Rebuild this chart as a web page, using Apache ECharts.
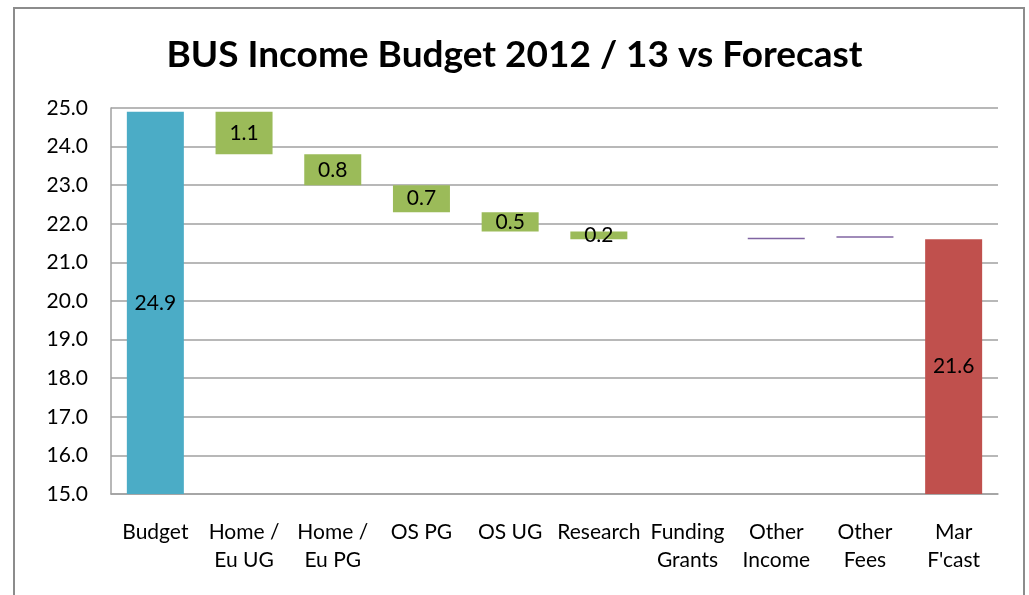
<!DOCTYPE html>
<html>
<head>
<meta charset="utf-8">
<script src="https://cdn.jsdelivr.net/npm/echarts@6/dist/echarts.min.js"></script>
<style>
  html, body { margin: 0; padding: 0; background: #ffffff; }
  #chart { width: 1029px; height: 595px; }
</style>
</head>
<body>
<div id="chart"></div>
<script>
// Income waterfall: opening budget, movements by income line, closing forecast
const categories = ['Budget', 'Home /\nEu UG', 'Home /\nEu PG', 'OS PG', 'OS UG', 'Research',
                    'Funding\nGrants', 'Other\nIncome', 'Other\nFees', "Mar\nF'cast"];
const budgetTotal = 24.9;
const forecastTotal = 21.6;
// change for each income line between the two totals (negative = shortfall)
const movements = [-1.1, -0.8, -0.7, -0.5, -0.2, 0, 0.04, 0.04];
const yMin = 15, yMax = 25, yStep = 1;

const FONT = 'Lato';
const n = categories.length;
const baseData = new Array(n).fill('-');
const totalData = new Array(n).fill('-');
const decreaseData = new Array(n).fill('-');
const increaseData = new Array(n).fill('-');

totalData[0] = { value: budgetTotal, itemStyle: { color: '#4BACC6' } };
totalData[n - 1] = { value: forecastTotal, itemStyle: { color: '#C0504D' } };
baseData[0] = 0;
baseData[n - 1] = 0;

let running = budgetTotal;
movements.forEach((m, i) => {
  const idx = i + 1;
  if (m < 0) {
    running += m;
    baseData[idx] = running;
    decreaseData[idx] = -m;
  } else if (m > 0) {
    baseData[idx] = running;
    increaseData[idx] = m;
    running += m;
  }
});

const labelStyle = {
  show: true,
  position: 'inside',
  color: '#000',
  fontFamily: FONT,
  fontSize: 21,
  formatter: p => Number(p.value).toFixed(1)
};

const chart = echarts.init(document.getElementById('chart'), null, { renderer: 'canvas' });
chart.setOption({
  animation: false,
  backgroundColor: '#ffffff',
  graphic: [{
    type: 'rect',
    shape: { x: 14, y: 8, width: 1010, height: 620 },
    style: { fill: 'none', stroke: '#8c8c8c', lineWidth: 2 },
    silent: true
  }],
  title: {
    text: 'BUS Income Budget 2012 / 13 vs Forecast',
    left: 'center',
    top: 32,
    textStyle: { fontFamily: FONT, fontWeight: 'bold', fontSize: 37, color: '#000' }
  },
  grid: { left: 111, right: 31, top: 108, bottom: 101 },
  xAxis: {
    type: 'category',
    data: categories,
    axisLine: { lineStyle: { color: '#a0a0a0', width: 1.5 } },
    axisTick: { show: false },
    axisLabel: {
      interval: 0,
      margin: 24,
      color: '#000',
      fontFamily: FONT,
      fontSize: 21,
      lineHeight: 28
    }
  },
  yAxis: {
    type: 'value',
    min: yMin,
    max: yMax,
    interval: yStep,
    axisLine: { show: true, lineStyle: { color: '#a0a0a0', width: 1.5 } },
    axisTick: { show: false },
    splitLine: { lineStyle: { color: '#a0a0a0', width: 1.5 } },
    axisLabel: {
      margin: 23,
      color: '#000',
      fontFamily: FONT,
      fontSize: 21,
      formatter: v => v.toFixed(1)
    }
  },
  series: [
    {
      name: 'base', type: 'bar', stack: 'wf', barWidth: 57,
      itemStyle: { color: 'transparent' }, silent: true, data: baseData
    },
    {
      name: 'total', type: 'bar', stack: 'wf', barWidth: 57,
      label: labelStyle, data: totalData
    },
    {
      name: 'decrease', type: 'bar', stack: 'wf', barWidth: 57,
      itemStyle: { color: '#9BBB59' }, label: labelStyle, data: decreaseData
    },
    {
      name: 'increase', type: 'bar', stack: 'wf', barWidth: 57,
      itemStyle: { color: '#8064A2' }, data: increaseData
    }
  ]
});
</script>
</body>
</html>
